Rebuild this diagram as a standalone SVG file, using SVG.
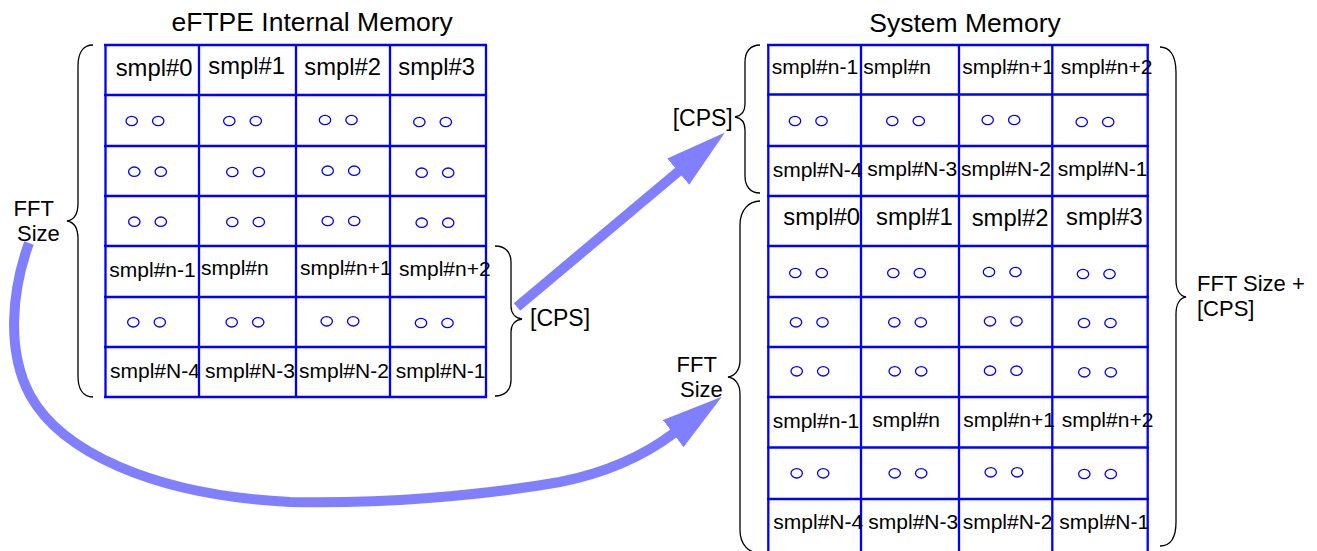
<svg xmlns="http://www.w3.org/2000/svg" width="1317" height="551" viewBox="0 0 1317 551">
<style>
text{font-family:"Liberation Sans",Arial,sans-serif;fill:#000}
.title{font-size:26.5px}
.big{font-size:23.8px}
.cell{font-size:21px}
.lbl{font-size:23px}
.lbl2{font-size:22px}
.grid{fill:none;stroke:#0000ff;stroke-width:2.3}
.dot{fill:none;stroke:#0000ff;stroke-width:1.3}
.brace{fill:none;stroke:#000;stroke-width:1.3}
.flow{fill:none;stroke:#8080ff;stroke-width:10;stroke-linecap:butt}
</style>
<defs>
<marker id="ah" markerUnits="userSpaceOnUse" markerWidth="62" markerHeight="36" viewBox="0 0 62 36" refX="1" refY="18" orient="auto">
<path d="M0,1 L61,18 L0,35 z" fill="#8080ff"/>
</marker>
<g id="oo"><ellipse class="dot" cx="0" cy="0" rx="5.7" ry="4.7"/><ellipse class="dot" cx="26.5" cy="0" rx="5.7" ry="4.7"/></g>
</defs>

<g id="eftpe-memory">
<text class="title" x="171.5" y="31">eFTPE Internal Memory</text>
<path class="grid" d="M105.5,45 V397 M199,45 V397 M296,45 V397 M390,45 V397 M486,45 V397 M104,45 H487 M104,95 H487 M104,146 H487 M104,196 H487 M104,246 H487 M104,297 H487 M104,347 H487 M104,397 H487"/>
<text class="big" x="115.7" y="76">smpl#0</text>
<text class="big" x="208.3" y="74">smpl#1</text>
<text class="big" x="304.3" y="75">smpl#2</text>
<text class="big" x="398.3" y="75">smpl#3</text>
<use href="#oo" x="131.7" y="121"/><use href="#oo" x="229.3" y="121"/><use href="#oo" x="325" y="120"/><use href="#oo" x="419.3" y="122"/>
<use href="#oo" x="134.3" y="171.7"/><use href="#oo" x="232.3" y="172"/><use href="#oo" x="327.7" y="170.7"/><use href="#oo" x="421.7" y="172.7"/>
<use href="#oo" x="134.3" y="221.7"/><use href="#oo" x="232.3" y="222"/><use href="#oo" x="327.7" y="221"/><use href="#oo" x="421.7" y="222.7"/>
<text class="cell" x="109.3" y="277">smpl#n-1</text>
<text class="cell" x="201" y="275">smpl#n</text>
<text class="cell" x="300" y="275">smpl#n+1</text>
<text class="cell" x="399" y="276">smpl#n+2</text>
<use href="#oo" x="133.3" y="322.3"/><use href="#oo" x="231.7" y="322.3"/><use href="#oo" x="326.7" y="321.3"/><use href="#oo" x="421" y="323"/>
<text class="cell" x="110" y="377.5">smpl#N-4</text>
<text class="cell" x="205" y="377.5">smpl#N-3</text>
<text class="cell" x="299" y="377.5">smpl#N-2</text>
<text class="cell" x="395.7" y="377.5">smpl#N-1</text>
</g>

<g id="eftpe-fft-brace">
<path class="brace" d="M93,45 C83,45 78,53 78,66 L78,203 C78,214 74,220 67,221 C74,222 78,228 78,239 L78,376 C78,389 83,397 93,397"/>
<text class="lbl2" x="13.5" y="215.5">FFT</text>
<text class="lbl2" x="17" y="240.5">Size</text>
</g>

<g id="eftpe-cps-brace">
<path class="brace" d="M495,246 C505,246 511,252 511,262 L511,306 C511,313 515,318 522,319 C515,320 511,325 511,332 L511,380 C511,390 505,396 495,396"/>
<text class="lbl" x="530" y="326">[CPS]</text>
</g>

<g id="system-memory">
<text class="title" x="869.3" y="32">System Memory</text>
<path class="grid" d="M768.3,45 V551 M861,45 V551 M959,45 V551 M1052.3,45 V551 M1147.7,45 V551 M767,45 H1149 M767,94.5 H1149 M767,146 H1149 M767,196 H1149 M767,246 H1149 M767,297 H1149 M767,347 H1149 M767,397 H1149 M767,447.5 H1149 M767,499 H1149"/>
<text class="cell" x="771.7" y="74.3">smpl#n-1</text>
<text class="cell" x="863.3" y="74">smpl#n</text>
<text class="cell" x="962.3" y="73.5">smpl#n+1</text>
<text class="cell" x="1060.7" y="74">smpl#n+2</text>
<use href="#oo" x="795" y="121"/><use href="#oo" x="892.3" y="121"/><use href="#oo" x="987.7" y="120"/><use href="#oo" x="1081.7" y="122"/>
<text class="cell" x="772.7" y="176.5">smpl#N-4</text>
<text class="cell" x="867.3" y="176">smpl#N-3</text>
<text class="cell" x="961" y="176">smpl#N-2</text>
<text class="cell" x="1057.7" y="176">smpl#N-1</text>
<text class="big" x="783.3" y="225">smpl#0</text>
<text class="big" x="876" y="225">smpl#1</text>
<text class="big" x="971.7" y="226">smpl#2</text>
<text class="big" x="1066" y="225">smpl#3</text>
<use href="#oo" x="795.3" y="273"/><use href="#oo" x="893.3" y="273"/><use href="#oo" x="989" y="272"/><use href="#oo" x="1083" y="274"/>
<use href="#oo" x="796" y="322.3"/><use href="#oo" x="894.3" y="322.3"/><use href="#oo" x="990" y="321.3"/><use href="#oo" x="1084" y="323"/>
<use href="#oo" x="796.7" y="371.3"/><use href="#oo" x="894.7" y="371.3"/><use href="#oo" x="990" y="370.7"/><use href="#oo" x="1084.3" y="372.3"/>
<text class="cell" x="772.7" y="427.5">smpl#n-1</text>
<text class="cell" x="872.3" y="427">smpl#n</text>
<text class="cell" x="963.3" y="427">smpl#n+1</text>
<text class="cell" x="1061.7" y="427">smpl#n+2</text>
<use href="#oo" x="796.7" y="473.3"/><use href="#oo" x="894.7" y="473.3"/><use href="#oo" x="990.7" y="472.3"/><use href="#oo" x="1084.3" y="474"/>
<text class="cell" x="773.3" y="529">smpl#N-4</text>
<text class="cell" x="868.3" y="529">smpl#N-3</text>
<text class="cell" x="962.7" y="529">smpl#N-2</text>
<text class="cell" x="1059.3" y="529">smpl#N-1</text>
</g>

<g id="system-cps-brace">
<path class="brace" d="M760,45 C750,45 745,52 745,62 L745,104 C745,112 741,116 735,117 C741,118 745,122 745,130 L745,176 C745,186 750,193 760,193"/>
<text class="lbl" x="672.7" y="126">[CPS]</text>
</g>

<g id="system-fft-brace">
<path class="brace" d="M760,201 C749,201 740,210 740,225 L740,360 C740,370 735,376 728,377 C735,378 740,384 740,394 L740,530 C740,545 749,553 760,553"/>
<text class="lbl2" x="676.5" y="372">FFT</text>
<text class="lbl2" x="680" y="397">Size</text>
</g>

<g id="system-total-brace">
<path class="brace" d="M1160,47 C1170,47 1176,56 1176,72 L1176,280 C1176,290 1180,296 1186,297 C1180,298 1176,304 1176,314 L1176,522 C1176,538 1170,546 1160,546"/>
<text class="lbl2" x="1197" y="290.5">FFT Size +</text>
<text class="lbl2" x="1197" y="315.5">[CPS]</text>
</g>

<g id="connectors">
<path id="cps-copy" class="flow" d="M517,307 L679,171" marker-end="url(#ah)"/>
<path id="fft-copy" class="flow" d="M29,243 C12,290 6,350 30,395 C60,450 150,495 290,502 C380,504 480,496 560,482 C610,472 645,455 674,433" marker-end="url(#ah)"/>
</g>
</svg>
